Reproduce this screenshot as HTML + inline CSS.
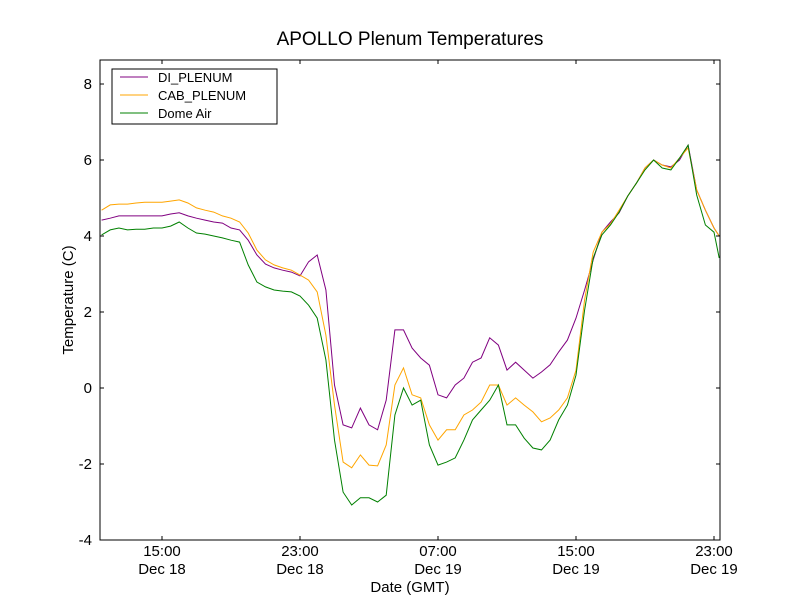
<!DOCTYPE html>
<html><head><meta charset="utf-8"><style>
body{margin:0;background:#fff}
svg text{font-family:"Liberation Sans","DejaVu Sans",sans-serif}
</style></head><body>
<svg id="chart" width="800" height="600" xmlns="http://www.w3.org/2000/svg">
<rect width="800" height="600" fill="#fff"/>
<text x="410" y="45" font-size="19" text-anchor="middle">APOLLO Plenum Temperatures</text>
<g id="series"></g>
<rect x="100" y="60" width="620" height="480" fill="none" stroke="#000" stroke-width="1"/>
<g id="axes"></g>
<text transform="translate(73,300) rotate(-90)" font-size="15" text-anchor="middle">Temperature (C)</text>
<text x="410" y="592" font-size="15" text-anchor="middle">Date (GMT)</text>
<g>
<rect x="112" y="69" width="165" height="55" fill="#fff" stroke="#000"/>
<line x1="120" y1="77" x2="148" y2="77" stroke="purple"/>
<text x="158" y="82" font-size="13">DI_PLENUM</text>
<line x1="120" y1="95" x2="148" y2="95" stroke="orange"/>
<text x="158" y="100" font-size="13">CAB_PLENUM</text>
<line x1="120" y1="113" x2="148" y2="113" stroke="green"/>
<text x="158" y="118" font-size="13">Dome Air</text>
</g>
</svg>
<script>
const times=[11.5,12,12.5,13,13.5,14,14.5,15,15.5,16,16.5,17,17.5,18,18.5,19,19.5,20,20.5,21,21.5,22,22.5,23,23.5,24,24.5,25,25.5,26,26.5,27,27.5,28,28.5,29,29.5,30,30.5,31,31.5,32,32.5,33,33.5,34,34.5,35,35.5,36,36.5,37,37.5,38,38.5,39,39.5,40,40.5,41,41.5,42,42.5,43,43.5,44,44.5,45,45.5,46,46.5,47,47.3];
const diPlenum=[4.42,4.47,4.53,4.53,4.53,4.53,4.53,4.53,4.58,4.61,4.53,4.47,4.42,4.37,4.34,4.21,4.16,3.89,3.5,3.26,3.16,3.1,3.05,2.95,3.32,3.5,2.58,0.08,-0.97,-1.05,-0.53,-0.97,-1.1,-0.32,1.53,1.53,1.05,0.79,0.6,-0.18,-0.26,0.08,0.26,0.68,0.79,1.32,1.13,0.47,0.68,0.47,0.26,0.42,0.61,0.95,1.26,1.84,2.58,3.37,4.1,4.37,4.61,5.05,5.39,5.79,6.0,5.87,5.82,6.0,6.39,5.21,4.68,4.21,4.0];
const cabPlenum=[4.68,4.82,4.84,4.84,4.87,4.89,4.89,4.89,4.92,4.95,4.87,4.74,4.68,4.63,4.53,4.47,4.37,4.08,3.63,3.37,3.24,3.16,3.1,2.97,2.84,2.53,1.39,-0.45,-1.95,-2.1,-1.76,-2.03,-2.05,-1.5,0.08,0.53,-0.18,-0.26,-0.97,-1.37,-1.1,-1.1,-0.71,-0.58,-0.37,0.08,0.08,-0.45,-0.26,-0.45,-0.63,-0.89,-0.79,-0.58,-0.26,0.47,2.32,3.58,4.1,4.32,4.68,5.05,5.39,5.79,6.0,5.87,5.79,6.05,6.32,5.21,4.68,4.21,4.0];
const domeAir=[4.03,4.16,4.21,4.16,4.18,4.18,4.21,4.21,4.26,4.37,4.21,4.08,4.05,4.0,3.95,3.89,3.84,3.24,2.79,2.66,2.58,2.55,2.53,2.42,2.18,1.84,0.74,-1.37,-2.74,-3.08,-2.89,-2.89,-3.0,-2.82,-0.71,0.0,-0.45,-0.32,-1.5,-2.03,-1.95,-1.84,-1.37,-0.84,-0.58,-0.32,0.08,-0.97,-0.97,-1.32,-1.58,-1.63,-1.37,-0.84,-0.45,0.34,2.05,3.42,4.03,4.29,4.63,5.05,5.39,5.74,6.0,5.79,5.74,6.05,6.39,5.08,4.29,4.1,3.42];
const yTicks=[-4,-2,0,2,4,6,8];
const xTickHours=[15,23,31,39,47];
const xTickTimes=["15:00","23:00","07:00","15:00","23:00"];
const xTickDates=["Dec 18","Dec 18","Dec 19","Dec 19","Dec 19"];

const NS="http://www.w3.org/2000/svg";
const X0=100,X1=720,Y0=540,Y1=60;
const tMin=11.406,tMax=47.348,vMin=-4,vMax=8.632;
function xs(t){return X0+(t-tMin)/(tMax-tMin)*(X1-X0);}
function ys(v){return Y0-(v-vMin)/(vMax-vMin)*(Y0-Y1);}
function mk(tag,attrs,parent){const e=document.createElementNS(NS,tag);for(const k in attrs)e.setAttribute(k,attrs[k]);parent.appendChild(e);return e;}
const sg=document.getElementById('series');
function line(vals,color,name){
  let d='';const n=Math.min(times.length,vals.length);
  for(let i=0;i<n;i++)d+=(i?'L':'M')+xs(times[i]).toFixed(1)+','+ys(vals[i]).toFixed(1);
  const p=mk('path',{d:d,fill:'none',stroke:color,'stroke-width':1},sg);
  
  
}
line(diPlenum,'purple','di-plenum-line');
line(cabPlenum,'orange','cab-plenum-line');
line(domeAir,'green','dome-air-line');
const ag=document.getElementById('axes');
yTicks.forEach(v=>{
  const y=ys(v);
  const a=mk('line',{x1:X0,y1:y,x2:X0+4,y2:y,stroke:'#000'},ag);
  
  
  const b=mk('line',{x1:X1,y1:y,x2:X1-4,y2:y,stroke:'#000'},ag);
  
  
  const t=mk('text',{x:X0-8,y:y+5,'font-size':15,'text-anchor':'end'},ag);
  t.textContent=String(v);
  
  
});
xTickHours.forEach((h,i)=>{
  const x=xs(h);
  const a=mk('line',{x1:x,y1:Y0,x2:x,y2:Y0-4,stroke:'#000'},ag);
  
  
  const b=mk('line',{x1:x,y1:Y1,x2:x,y2:Y1+4,stroke:'#000'},ag);
  
  
  const t=mk('text',{x:x,y:556,'font-size':15,'text-anchor':'middle'},ag);
  t.textContent=xTickTimes[i];
  
  
  const d=mk('text',{x:x,y:574,'font-size':15,'text-anchor':'middle'},ag);
  d.textContent=xTickDates[i];
  
  
});
</script>
</body></html>
